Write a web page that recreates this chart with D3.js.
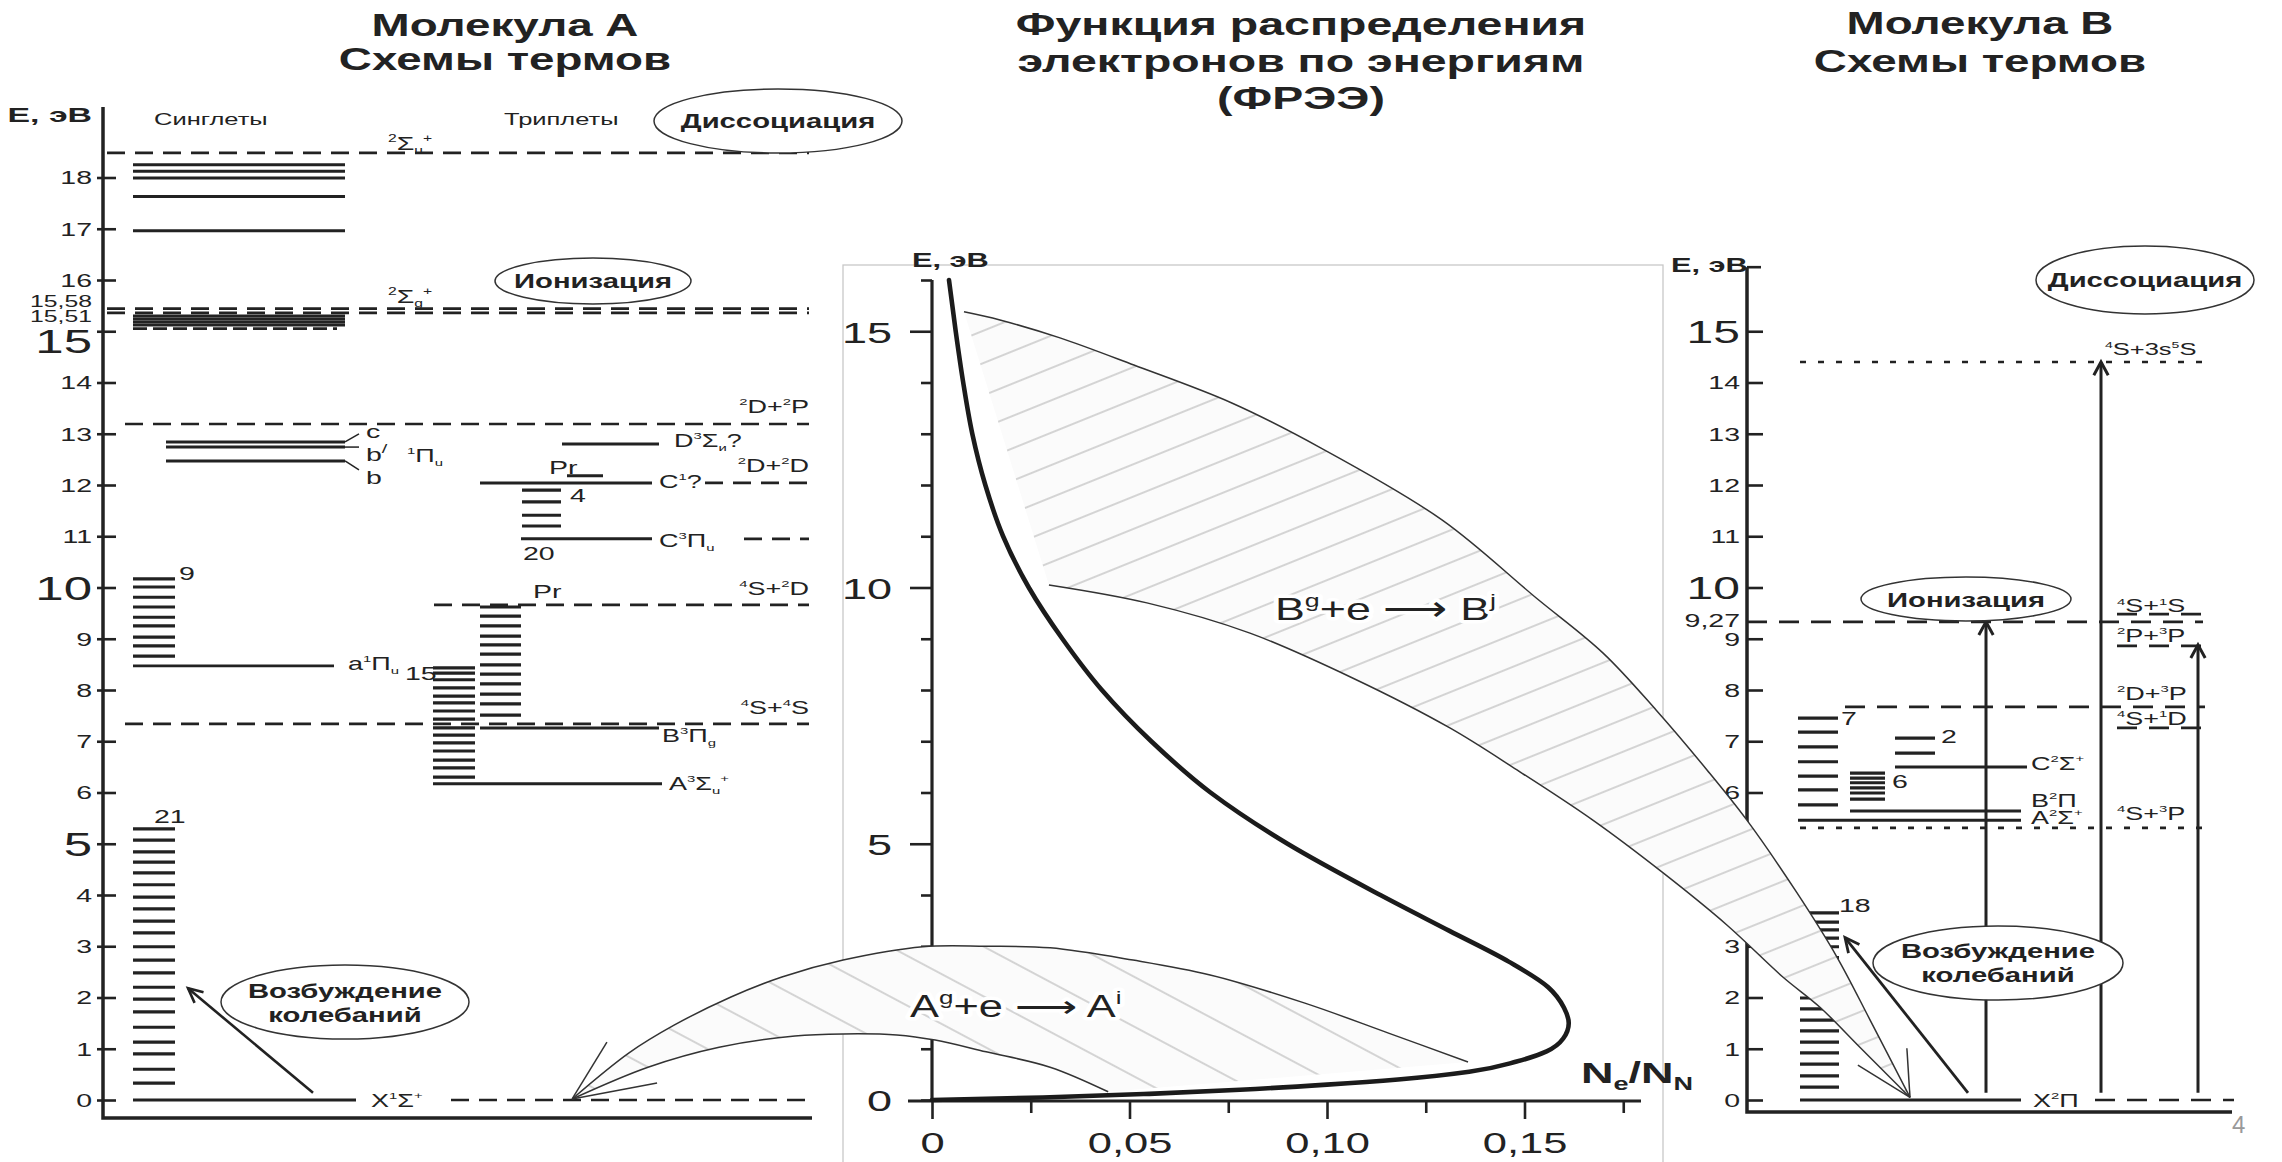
<!DOCTYPE html>
<html><head><meta charset="utf-8"><title>Схемы термов и ФРЭЭ</title>
<script src="https://cdn.jsdelivr.net/npm/d3@7"></script>
<style>
html,body{margin:0;padding:0;background:#fff;}
svg{display:block;}
</style></head>
<body>
<svg id="chart" width="2282" height="1162" xmlns="http://www.w3.org/2000/svg"></svg>
<script>
// ====================== DATA ======================
const titleLeft   = ["Молекула A", "Схемы термов"];
const titleMiddle = ["Функция распределения", "электронов по энергиям", "(ФРЭЭ)"];
const titleRight  = ["Молекула B", "Схемы термов"];
const axisTitleE   = "E, эВ";
const axisTitleFee = "N_e/N_N";
const columnTitlesA = ["Синглеты", "Триплеты"];
const bubbleTexts = ["Диссоциация", "Ионизация", "Возбуждение", "колебаний"];
const lobeLabels = ["A^g+e ⟶ A^i", "B^g+e ⟶ B^j"];
const pageNumber = "4";

// energy axes (eV)
const energyTicksA   = d3.range(0, 19);
const energyTicksFee = d3.range(0, 17);
const energyLabelsFee = [0, 5, 10, 15];
const energyTicksB   = d3.range(0, 16);
// N_e/N_N axis
const feeTicks  = [0, 0.025, 0.05, 0.075, 0.10, 0.125, 0.15, 0.175];
const feeLabels = [0, 0.05, 0.10, 0.15];

// ---- Molecule A (eV) ----
const ionStateEA     = [18.48, 15.44];
const ionStateNamesA = ["^2Σ_u^+", "^2Σ_g^+"];
const ionThresholdEA      = [15.44, 15.36];
const ionThresholdLabelsA = ["15,58", "15,51"];
const singletHighA  = [18.25, 18.12, 17.99, 17.63, 16.96];
const singletBandA  = [15.30, 15.24, 15.18, 15.12];
const singletBandDashedA = [15.05];
const rydbergA      = [12.84, 12.74, 12.47];
const rydbergNamesA = ["c", "b^/", "b"];
const aPiLadderA    = [10.17, 10.01, 9.81, 9.62, 9.42, 9.25, 9.03, 8.86, 8.66];
const aPiA          = 8.47;
const groundLadderA = [5.29, 5.07, 4.84, 4.64, 4.43, 4.20, 3.96, 3.73, 3.49, 3.26, 2.99,
                       2.73, 2.48, 2.20, 1.97, 1.72, 1.42, 1.13, 0.90, 0.60, 0.33];
const groundA       = 0;
const tripletDA  = 12.80;
const tripletPrA = 12.18;
const tripletC1A = 12.04;
const ladderC3A  = [11.90, 11.67, 11.41, 11.20];
const tripletC3A = 10.95;
const ladderB3A  = [9.62, 9.44, 9.25, 9.05, 8.88, 8.70, 8.49, 8.31, 8.12, 7.92, 7.73, 7.51];
const tripletB3A = 7.26;
const ladderA3A  = [8.43, 8.33, 8.20, 8.04, 7.88, 7.75, 7.59, 7.43, 7.26, 7.12, 6.97, 6.81, 6.63, 6.48, 6.30];
const tripletA3A = 6.17;
const stateNamesA = ["^1Π_u", "a^1Π_u", "X^1Σ^+", "D^3Σ_и?", "C^1?", "C^3Π_u", "B^3Π_g", "A^3Σ_u^+"];
const ladderLabelsA = ["9", "21", "15", "4", "20", "Pr", "Pr"];
const limitsA     = [13.19, 12.04, 10.95, 9.66, 7.34, 0];
const limitNamesA = ["^2D+^2P", "^2D+^2D", "", "^4S+^2D", "^4S+^4S", ""];
const vibArrowA   = [0.14, 2.18];

// ---- Molecule B (eV) ----
const groundLadderB = [3.65, 3.47, 3.32, 3.16, 2.99, 2.78, 2.58, 2.38, 2.18,
                       1.99, 1.78, 1.56, 1.35, 1.13, 0.92, 0.70, 0.47, 0.25];
const groundB   = 0;
const ladder7B  = [7.45, 7.18, 6.89, 6.60, 6.32, 6.05, 5.76];
const ladder6B  = [6.38, 6.28, 6.19, 6.09, 5.99, 5.87];
const ladder2B  = [7.06, 6.77];
const statesB     = [6.50, 5.64, 5.46];
const stateNamesB = ["C^2Σ^+", "B^2Π", "A^2Σ^+", "X^2Π"];
const ladderLabelsB = ["7", "6", "2", "18"];
const ionB      = 9.33;
const ionLabelB = "9,27";
const limitsB     = [14.40, 9.48, 8.86, 7.67, 7.26, 5.31];
const limitNamesB = ["^4S+3s^5S", "^4S+^1S", "^2P+^3P", "^2D+^3P", "^4S+^1D", "^4S+^3P"];
const transitionTopsB  = [9.33, 14.40, 8.88];
const transitionStartB = 0.14;
const vibArrowB = [0.14, 3.17];

// ---- Electron energy distribution function (N_e/N_N vs E) ----
const feeEnergy = [16.0, 15.0, 14.0, 13.0, 12.0, 11.0, 10.0, 9.0, 8.0, 7.0, 6.0, 5.0, 4.0,
                   3.3, 2.7, 2.2, 1.8, 1.5, 1.2, 0.95, 0.75, 0.55, 0.4, 0.3, 0.2, 0.12, 0.05, 0.0];
const feeValue  = [0.0043, 0.0060, 0.0079, 0.0102, 0.0135, 0.0180, 0.0245, 0.0330, 0.0430, 0.0555,
                   0.0705, 0.0900, 0.1135, 0.1310, 0.1460, 0.1560, 0.1600, 0.1612, 0.1598, 0.1556,
                   0.1480, 0.1360, 0.1180, 0.1000, 0.0780, 0.0550, 0.0280, 0.0];

// excitation regions (extension of the N_e/N_N coordinate across the figure)
const lobeBOuterX = [0.0081, 0.0172, 0.0324, 0.0511, 0.0759, 0.0985, 0.1291, 0.1529, 0.1699, 0.1833,
                     0.1962, 0.2063, 0.2190, 0.2291, 0.2375, 0.2476];
const lobeBOuterE = [15.38, 15.22, 14.87, 14.34, 13.60, 12.72, 11.32, 9.80, 8.72, 7.61,
                     6.44, 5.46, 4.04, 2.79, 1.56, 0.05];
const lobeBInnerX = [0.0296, 0.0544, 0.0805, 0.1066, 0.1311, 0.1481, 0.1673, 0.1851, 0.2013, 0.2154,
                     0.2248, 0.2349, 0.2476];
const lobeBInnerE = [10.05, 9.70, 9.11, 8.23, 7.26, 6.44, 5.46, 4.43, 3.41, 2.40, 1.81, 1.03, 0.05];
const lobeAOuterX = [-0.0911, -0.0767, -0.0653, -0.0509, -0.0380, -0.0225, -0.0023, 0.0137, 0.0299,
                     0.0509, 0.0704, 0.0944, 0.1154, 0.1357];
const lobeAOuterE = [0.02, 0.92, 1.46, 2.01, 2.40, 2.73, 2.99, 3.00, 2.97, 2.73, 2.44, 1.89, 1.31, 0.74];
const lobeAInnerX = [-0.0911, -0.0719, -0.0539, -0.0347, -0.0225, -0.0089, 0.0008, 0.0137, 0.0299, 0.0446];
const lobeAInnerE = [0.02, 0.64, 1.03, 1.25, 1.29, 1.27, 1.17, 0.94, 0.64, 0.16];
const fanAX = [-0.0823, -0.0696];
const fanAE = [1.13, 0.33];
const fanBX = [0.2344, 0.2468];
const fanBE = [0.68, 1.01];

// ====================== LAYOUT ======================
const SX = 1.5;                       // horizontal stretch of the original slide
const FONT = "'Liberation Sans', Arial, Helvetica, sans-serif";
const INK = "#222";
const LA = { axisX: 103, axisTop: 107, axisBottom: 1118, bottomEnd: 812, labelX: 92, dashEnd: 809 };
const LM = { axisX: 932, axisY: 1101, xStart: 908, xEnd: 1641, box: [843, 265, 1663, 1180] };
const LB = { axisX: 1747, axisBottom: 1112, bottomEnd: 2232, labelX: 1740, top: 16.25 };

const yE = d3.scaleLinear().domain([0, 18]).range([1100, 177.5]);
const xFee = d3.scaleLinear().domain([0, 0.175]).range([932, 1623.25]);

const svg = d3.select("#chart");
svg.append("rect").attr("width", 2282).attr("height", 1162).attr("fill", "#fff");
const defs = svg.append("defs");

// ====================== HELPERS ======================
function parseRich(s) {
  const out = []; let i = 0;
  while (i < s.length) {
    const c = s[i];
    if (c === "^" || c === "_") {
      i++; let t;
      if (s[i] === "{") { const j = s.indexOf("}", i); t = s.slice(i + 1, j); i = j + 1; }
      else { t = s[i]; i++; }
      out.push({ t, k: c === "^" ? "sup" : "sub" });
    } else {
      let j = i; while (j < s.length && s[j] !== "^" && s[j] !== "_") j++;
      out.push({ t: s.slice(i, j), k: "n" }); i = j;
    }
  }
  return out;
}
function richText(sel, x, y, str, o = {}) {
  const fs = o.size || 18, sx = o.sx ?? SX;
  const g = sel.append("g").attr("transform", `translate(${x},${y}) scale(${sx},1)`);
  const t = g.append("text").attr("font-family", FONT).attr("font-size", fs)
    .attr("fill", o.color || INK).attr("text-anchor", o.anchor || "start")
    .attr("font-weight", o.bold ? "bold" : "normal");
  if (o.halo) t.attr("stroke", "#fff").attr("stroke-width", o.halo).attr("paint-order", "stroke").attr("stroke-linejoin", "round");
  let cur = 0;
  const supR = o.supR || 0.55;
  parseRich(str).forEach(p => {
    const target = p.k === "sup" ? -fs * 0.42 : p.k === "sub" ? fs * 0.22 : 0;
    t.append("tspan").text(p.t).attr("dy", target - cur)
      .attr("font-size", p.k === "n" ? fs : fs * supR);
    cur = target;
  });
  return t;
}
function hline(g, E, x1, x2, o = {}) {
  g.append("line").attr("x1", x1).attr("x2", x2).attr("y1", yE(E)).attr("y2", yE(E))
    .attr("stroke", o.color || INK).attr("stroke-width", o.w || 3)
    .attr("stroke-dasharray", o.dash || null);
}
function ladder(g, arr, x1, x2, w) { arr.forEach(E => hline(g, E, x1, x2, { w: w || 3.2 })); }
function arrow(g, x1, y1, x2, y2, o = {}) {
  const w = o.w || 2.8, head = o.head || 15, spread = o.spread || 0.45;
  g.append("line").attr("x1", x1).attr("y1", y1).attr("x2", x2).attr("y2", y2)
    .attr("stroke", INK).attr("stroke-width", w);
  const a = Math.atan2(y2 - y1, x2 - x1);
  const p1 = [x2 + head * Math.cos(a + Math.PI - spread), y2 + head * Math.sin(a + Math.PI - spread)];
  const p2 = [x2 + head * Math.cos(a + Math.PI + spread), y2 + head * Math.sin(a + Math.PI + spread)];
  g.append("path").attr("d", `M${p1}L${x2},${y2}L${p2}`).attr("fill", "none")
    .attr("stroke", INK).attr("stroke-width", w);
}
function bubble(g, cx, cy, rx, ry, lines, baselines, size) {
  g.append("ellipse").attr("cx", cx).attr("cy", cy).attr("rx", rx).attr("ry", ry)
    .attr("fill", "#fff").attr("stroke", "#333").attr("stroke-width", 1.5);
  lines.forEach((t, i) => richText(g, cx, baselines[i], t, { size: size || 19.5, bold: true, anchor: "middle" }));
}
function hatch(id, angle, gap, color) {
  const p = defs.append("pattern").attr("id", id).attr("patternUnits", "userSpaceOnUse")
    .attr("width", 20).attr("height", gap).attr("patternTransform", `rotate(${angle})`);
  p.append("line").attr("x1", -5).attr("x2", 25).attr("y1", gap / 2).attr("y2", gap / 2)
    .attr("stroke", color).attr("stroke-width", 1.1);
}
hatch("hatchB", -22, 30, "#b4b4b4");
hatch("hatchA", 28, 44, "#b4b4b4");

const DASH_A = "18,10", DASH_B = "20,12", DOT_B = "6,12";

// ====================== MIDDLE BOX ======================
svg.append("rect").attr("x", LM.box[0]).attr("y", LM.box[1])
  .attr("width", LM.box[2] - LM.box[0]).attr("height", LM.box[3] - LM.box[1])
  .attr("fill", "none").attr("stroke", "#c8c8c8").attr("stroke-width", 1.3);

// ====================== MOLECULE A ======================
const gA = svg.append("g");
const axA = d3.axisLeft(yE).tickValues(energyTicksA).tickSize(-13).tickSizeOuter(0).tickFormat(d => String(d));
const gAx = gA.append("g").attr("transform", `translate(${LA.axisX},0)`).call(axA)
  .attr("font-family", FONT).attr("font-size", null);
gAx.select(".domain").remove();
gAx.selectAll(".tick line").attr("x1", -6).attr("stroke", INK).attr("stroke-width", 2.6);
gAx.selectAll(".tick text").attr("fill", INK)
  .attr("font-size", d => [5, 10, 15].includes(d) ? 34 : 19)
  .attr("x", -(LA.axisX - LA.labelX) / SX).attr("transform", `scale(${SX},1)`)
  .attr("dy", d => d === 15 ? "0.62em" : "0.34em");
gA.append("path").attr("d", `M${LA.axisX},${LA.axisTop}V${LA.axisBottom}H${LA.bottomEnd}`)
  .attr("fill", "none").attr("stroke", INK).attr("stroke-width", 3.5);
richText(gA, LA.labelX, 122, axisTitleE, { size: 20.5, bold: true, anchor: "end", sx: 1.65 });
ionThresholdLabelsA.forEach((t, i) => richText(gA, LA.labelX, [307, 322][i], t, { size: 16.5, anchor: "end" }));
richText(gA, 154, 125, columnTitlesA[0], { size: 17 });
richText(gA, 504, 125, columnTitlesA[1], { size: 17 });

// dissociation / ionisation limits
ionStateEA.forEach(E => hline(gA, E, 107, LA.dashEnd, { dash: DASH_A, w: 2.7 }));
hline(gA, ionThresholdEA[1], 107, LA.dashEnd, { dash: DASH_A, w: 2.7 });
ionStateNamesA.forEach((t, i) => richText(gA, 388, [150, 303][i], t, { size: 19 }));
const limitStartA = [125, 705, 744, 434, 125, 451];
const limitBaseA = [413, 472, 0, 595, 714, 0];
limitsA.forEach((E, i) => {
  hline(gA, E, limitStartA[i], LA.dashEnd, { dash: DASH_A, w: 2.7 });
  if (limitNamesA[i]) richText(gA, LA.dashEnd, limitBaseA[i], limitNamesA[i], { size: 18, anchor: "end" });
});

// singlets
ladder(gA, singletHighA, 133, 345, 3);
ladder(gA, singletBandA, 133, 345, 3);
singletBandDashedA.forEach(E => hline(gA, E, 133, 337, { dash: "14,6", w: 2.7 }));
ladder(gA, rydbergA, 166, 345, 3);
const rydEndDy = [-8, 0, 9];
rydbergA.forEach((E, i) => gA.append("line").attr("x1", 345).attr("y1", yE(E)).attr("x2", 359)
  .attr("y2", yE(E) + rydEndDy[i]).attr("stroke", INK).attr("stroke-width", 1.5));
const rydLab = [[366, 438], [366, 461], [366, 484]];
rydbergNamesA.forEach((t, i) => richText(gA, rydLab[i][0], rydLab[i][1], t, { size: 19, supR: 0.7 }));
ladder(gA, aPiLadderA, 133, 175);
hline(gA, aPiA, 133, 334, { w: 2.8 });
ladder(gA, groundLadderA, 133, 175);
hline(gA, groundA, 133, 356, { w: 3 });

// triplets
hline(gA, tripletDA, 562, 659);
hline(gA, tripletPrA, 567, 603);
hline(gA, tripletC1A, 480, 652);
ladder(gA, ladderC3A, 522, 561);
hline(gA, tripletC3A, 521, 652);
ladder(gA, ladderB3A, 480, 521);
hline(gA, tripletB3A, 480, 659);
ladder(gA, ladderA3A, 433, 475);
hline(gA, tripletA3A, 433, 662);

const stateLabPosA = [[407, 462], [348, 670], [371, 1107], [674, 447], [659, 488], [659, 547], [662, 742], [669, 790]];
stateNamesA.forEach((t, i) => richText(gA, stateLabPosA[i][0], stateLabPosA[i][1], t, { size: 18 }));
const ladderLabPosA = [[179, 580], [154, 823], [405, 680], [570, 502], [523, 560], [549, 474], [533, 598]];
ladderLabelsA.forEach((t, i) => richText(gA, ladderLabPosA[i][0], ladderLabPosA[i][1], t, { size: 19 }));

// ====================== MOLECULE B ======================
const gB = svg.append("g");
ladder(gB, groundLadderB, 1800, 1839);
hline(gB, groundB, 1800, 2021);
ladder(gB, ladder7B, 1798, 1838);
ladder(gB, ladder6B, 1850, 1885);
ladder(gB, ladder2B, 1895, 1935);
const stateXB = [[1895, 2027], [1850, 2021], [1798, 2021]];
statesB.forEach((E, i) => hline(gB, E, stateXB[i][0], stateXB[i][1]));
const stateLabPosB = [[2031, 770], [2031, 807], [2031, 824], [2033, 1107]];
stateNamesB.forEach((t, i) => richText(gB, stateLabPosB[i][0], stateLabPosB[i][1], t, { size: 18 }));
const ladderLabPosB = [[1841, 725], [1892, 788], [1941, 743], [1839, 912]];
ladderLabelsB.forEach((t, i) => richText(gB, ladderLabPosB[i][0], ladderLabPosB[i][1], t, { size: 19 }));

// limits
hline(gB, ionB, LB.axisX, 2203, { dash: DASH_B, w: 2.7 });
hline(gB, groundB, 2095, 2234, { dash: DASH_B, w: 2.7 });
const limitXB = [[1800, 2205], [2117, 2205], [2117, 2205], [1845, 2205], [2117, 2205], [1800, 2203]];
const limitDashB = [DOT_B, DASH_B, DASH_B, DASH_B, DASH_B, DOT_B];
const limitLabXB = [2105, 2117, 2117, 2117, 2117, 2117];
const limitLabDyB = [-7, -2, -4, -7, -3, -8];
limitsB.forEach((E, i) => {
  hline(gB, E, limitXB[i][0], limitXB[i][1], { dash: limitDashB[i], w: 2.7 });
  richText(gB, limitLabXB[i], yE(E) + limitLabDyB[i], limitNamesB[i], { size: i === 0 ? 17 : 18 });
});

// axis B
const axB = d3.axisLeft(yE).tickValues(energyTicksB).tickSize(-16).tickSizeOuter(0).tickFormat(d => String(d));
const gBx = gB.append("g").attr("transform", `translate(${LB.axisX},0)`).call(axB)
  .attr("font-family", FONT).attr("font-size", null);
gBx.select(".domain").remove();
gBx.selectAll(".tick line").attr("stroke", INK).attr("stroke-width", 2.6);
gBx.selectAll(".tick text").attr("fill", INK)
  .attr("font-size", d => [10, 15].includes(d) ? 32 : 19)
  .attr("x", -(LB.axisX - LB.labelX) / SX).attr("transform", `scale(${SX},1)`).attr("dy", "0.34em");
gB.append("line").attr("x1", LB.axisX).attr("x2", LB.axisX + 14).attr("y1", yE(LB.top)).attr("y2", yE(LB.top))
  .attr("stroke", INK).attr("stroke-width", 2.6);
gB.append("path").attr("d", `M${LB.axisX},${yE(LB.top)}V${LB.axisBottom}H${LB.bottomEnd}`)
  .attr("fill", "none").attr("stroke", INK).attr("stroke-width", 3.5);
richText(gB, 1671, 272, axisTitleE, { size: 20.5, bold: true });
richText(gB, LB.labelX, 627, ionLabelB, { size: 19, anchor: "end" });

// transitions (ionisation / dissociation)
const transXB = [1986, 2101, 2198];
transitionTopsB.forEach((E, i) => arrow(gB, transXB[i], yE(transitionStartB), transXB[i], yE(E), { w: 3, head: 15, spread: 0.5 }));

// ====================== MIDDLE AXES ======================
const gM = svg.append("g");
const axMy = d3.axisLeft(yE).tickValues(energyTicksFee).tickSize(11).tickSizeOuter(0)
  .tickFormat(d => energyLabelsFee.includes(d) ? String(d) : "");
const gMy = gM.append("g").attr("transform", `translate(${LM.axisX},0)`).call(axMy)
  .attr("font-family", FONT).attr("font-size", null);
gMy.select(".domain").remove();
gMy.selectAll(".tick line").attr("stroke", INK).attr("stroke-width", 2.6)
  .attr("x2", d => energyLabelsFee.includes(d) && d > 0 ? -22 : -11);
gMy.selectAll(".tick text").attr("fill", INK).attr("font-size", 30)
  .attr("x", -40 / SX).attr("transform", `scale(${SX},1)`).attr("dy", "0.36em");
gM.append("line").attr("x1", LM.axisX).attr("x2", LM.axisX).attr("y1", yE(16)).attr("y2", LM.axisY)
  .attr("stroke", INK).attr("stroke-width", 3.2);

const fmtFee = d => d === 0 ? "0" : d.toFixed(2).replace(".", ",");
const axMx = d3.axisBottom(xFee).tickValues(feeTicks).tickSize(12).tickSizeOuter(0)
  .tickFormat(d => feeLabels.some(v => Math.abs(v - d) < 1e-9) ? fmtFee(d) : "");
const gMx = gM.append("g").attr("transform", `translate(0,${LM.axisY})`).call(axMx)
  .attr("font-family", FONT).attr("font-size", null);
gMx.select(".domain").remove();
gMx.selectAll(".tick line").attr("stroke", INK).attr("stroke-width", 2.6)
  .attr("y2", d => feeLabels.some(v => Math.abs(v - d) < 1e-9) ? 18 : 12);
gMx.selectAll(".tick text").attr("fill", INK).attr("font-size", 29)
  .attr("y", 31).attr("dy", "0.71em").attr("transform", `scale(${SX},1)`);
gM.append("line").attr("x1", LM.xStart).attr("x2", LM.xEnd).attr("y1", LM.axisY).attr("y2", LM.axisY)
  .attr("stroke", INK).attr("stroke-width", 3.2);
richText(gM, 912, 267, axisTitleE, { size: 20.5, bold: true });

// ====================== EXCITATION REGIONS ======================
const gL = svg.append("g");
const lineGen = d3.line().x(d => xFee(d[0])).y(d => yE(d[1])).curve(d3.curveCatmullRom.alpha(0.5));
function lobe(outer, inner, hatchId) {
  const d = lineGen(outer) + lineGen(inner.slice().reverse()).replace(/^M/, "L") + "Z";
  gL.append("path").attr("d", d).attr("fill", "#fbfbfb");
  gL.append("path").attr("d", d).attr("fill", `url(#${hatchId})`);
  [outer, inner].forEach(p => gL.append("path").attr("d", lineGen(p)).attr("fill", "none")
    .attr("stroke", "#333").attr("stroke-width", 1.5));
}
lobe(d3.zip(lobeAOuterX, lobeAOuterE), d3.zip(lobeAInnerX, lobeAInnerE), "hatchA");
lobe(d3.zip(lobeBOuterX, lobeBOuterE), d3.zip(lobeBInnerX, lobeBInnerE), "hatchB");
fanAX.forEach((x, i) => gL.append("line").attr("x1", xFee(lobeAOuterX[0])).attr("y1", yE(lobeAOuterE[0]))
  .attr("x2", xFee(x)).attr("y2", yE(fanAE[i])).attr("stroke", "#333").attr("stroke-width", 1.5));
fanBX.forEach((x, i) => gL.append("line").attr("x1", xFee(lobeBOuterX[lobeBOuterX.length - 1]))
  .attr("y1", yE(lobeBOuterE[lobeBOuterE.length - 1]))
  .attr("x2", xFee(x)).attr("y2", yE(fanBE[i])).attr("stroke", "#333").attr("stroke-width", 1.5));

// FEE curve (E is monotonic along the data, so a Y-monotone spline keeps it smooth)
const feeGen = d3.line().x(d => xFee(d[0])).y(d => yE(d[1])).curve(d3.curveMonotoneY);
gL.append("path").attr("d", feeGen(d3.zip(feeValue, feeEnergy))).attr("fill", "none")
  .attr("stroke", "#1b1b1b").attr("stroke-width", 4.6).attr("stroke-linecap", "round");
richText(gL, 1581, 1083, axisTitleFee, { size: 30, bold: true, supR: 0.6 });

richText(gL, 910, 1017, lobeLabels[0], { size: 31, halo: 7, supR: 0.6, sx: 1.4 });
richText(gL, 1275, 620, lobeLabels[1], { size: 32, halo: 7, supR: 0.6, sx: 1.4 });

// ====================== BUBBLES & ARROWS ======================
const gC = svg.append("g");
arrow(gC, 313, yE(vibArrowA[0]), 188, yE(vibArrowA[1]), { w: 2.6, head: 16, spread: 0.45 });
arrow(gC, 1968, yE(vibArrowB[0]), 1845, yE(vibArrowB[1]), { w: 2.8, head: 16, spread: 0.45 });
bubble(gC, 778, 121, 124, 32, [bubbleTexts[0]], [128]);
bubble(gC, 593, 281, 98, 23, [bubbleTexts[1]], [288]);
bubble(gC, 345, 1002, 124, 37, [bubbleTexts[2], bubbleTexts[3]], [998, 1022]);
bubble(gC, 2145, 280, 109, 34, [bubbleTexts[0]], [287]);
bubble(gC, 1966, 599, 105, 22, [bubbleTexts[1]], [607]);
bubble(gC, 1998, 963, 125, 37, [bubbleTexts[2], bubbleTexts[3]], [958, 982]);

// ====================== TITLES ======================
const gT = svg.append("g");
titleLeft.forEach((t, i) => richText(gT, 505, [36, 70][i], t, { size: 30.5, bold: true, anchor: "middle" }));
titleMiddle.forEach((t, i) => richText(gT, 1301, [35, 72, 109][i], t, { size: 31, bold: true, anchor: "middle" }));
titleRight.forEach((t, i) => richText(gT, 1980, [34, 72][i], t, { size: 30.5, bold: true, anchor: "middle" }));
richText(gT, 2232, 1133, pageNumber, { size: 24, sx: 1, color: "#999" });
</script>
</body></html>
